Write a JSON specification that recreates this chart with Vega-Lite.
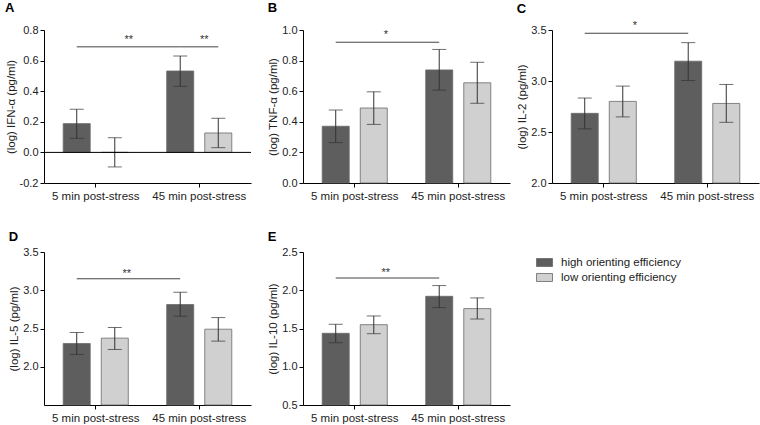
{
  "$schema": "https://vega.github.io/schema/vega-lite/v6.json",
  "padding": {"left": 5, "top": 2, "right": 2, "bottom": 2},
  "config": {
    "font": "Liberation Sans",
    "view": {"stroke": null},
    "axis": {"domainColor": "#000", "tickColor": "#000", "labelColor": "#222", "titleColor": "#222", "labelFontSize": 11, "titleFontSize": 11.5, "titleFontWeight": "normal", "tickSize": 4, "grid": false, "labelPadding": 2, "titlePadding": 3, "labelOverlap": false, "labelFlush": false, "tickCount": 12},
    "axisX": {"labelAngle": 0, "labelFontSize": 11.5, "title": null, "labelPadding": 3},
    "title": {"anchor": "start", "frame": "bounds", "fontSize": 13, "fontWeight": "bold", "offset": 9, "color": "#000"}
  },
  "datasets": {
    "bars": [
      {"panel": "A", "time": "5 min post-stress", "group": "high orienting efficiency", "mean": 0.188, "lo": 0.092, "hi": 0.282},
      {"panel": "A", "time": "5 min post-stress", "group": "low orienting efficiency", "mean": 0.0, "lo": -0.095, "hi": 0.096},
      {"panel": "A", "time": "45 min post-stress", "group": "high orienting efficiency", "mean": 0.532, "lo": 0.432, "hi": 0.63},
      {"panel": "A", "time": "45 min post-stress", "group": "low orienting efficiency", "mean": 0.127, "lo": 0.031, "hi": 0.223},
      {"panel": "B", "time": "5 min post-stress", "group": "high orienting efficiency", "mean": 0.371, "lo": 0.264, "hi": 0.477},
      {"panel": "B", "time": "5 min post-stress", "group": "low orienting efficiency", "mean": 0.49, "lo": 0.383, "hi": 0.596},
      {"panel": "B", "time": "45 min post-stress", "group": "high orienting efficiency", "mean": 0.739, "lo": 0.607, "hi": 0.873},
      {"panel": "B", "time": "45 min post-stress", "group": "low orienting efficiency", "mean": 0.655, "lo": 0.521, "hi": 0.789},
      {"panel": "C", "time": "5 min post-stress", "group": "high orienting efficiency", "mean": 2.683, "lo": 2.531, "hi": 2.833},
      {"panel": "C", "time": "5 min post-stress", "group": "low orienting efficiency", "mean": 2.8, "lo": 2.648, "hi": 2.95},
      {"panel": "C", "time": "45 min post-stress", "group": "high orienting efficiency", "mean": 3.194, "lo": 3.005, "hi": 3.376},
      {"panel": "C", "time": "45 min post-stress", "group": "low orienting efficiency", "mean": 2.78, "lo": 2.595, "hi": 2.966},
      {"panel": "D", "time": "5 min post-stress", "group": "high orienting efficiency", "mean": 2.304, "lo": 2.161, "hi": 2.448},
      {"panel": "D", "time": "5 min post-stress", "group": "low orienting efficiency", "mean": 2.374, "lo": 2.226, "hi": 2.513},
      {"panel": "D", "time": "45 min post-stress", "group": "high orienting efficiency", "mean": 2.813, "lo": 2.661, "hi": 2.974},
      {"panel": "D", "time": "45 min post-stress", "group": "low orienting efficiency", "mean": 2.491, "lo": 2.335, "hi": 2.643},
      {"panel": "E", "time": "5 min post-stress", "group": "high orienting efficiency", "mean": 1.437, "lo": 1.314, "hi": 1.555},
      {"panel": "E", "time": "5 min post-stress", "group": "low orienting efficiency", "mean": 1.55, "lo": 1.432, "hi": 1.664},
      {"panel": "E", "time": "45 min post-stress", "group": "high orienting efficiency", "mean": 1.921, "lo": 1.773, "hi": 2.061},
      {"panel": "E", "time": "45 min post-stress", "group": "low orienting efficiency", "mean": 1.76, "lo": 1.624, "hi": 1.9}
    ],
    "sig": [
      {"panel": "A", "line": 1, "time": "5 min post-stress", "group": "high orienting efficiency", "y": 0.69},
      {"panel": "A", "line": 1, "time": "45 min post-stress", "group": "high orienting efficiency", "y": 0.69},
      {"panel": "A", "line": 2, "time": "45 min post-stress", "group": "high orienting efficiency", "y": 0.69},
      {"panel": "A", "line": 2, "time": "45 min post-stress", "group": "low orienting efficiency", "y": 0.69},
      {"panel": "B", "line": 1, "time": "5 min post-stress", "group": "high orienting efficiency", "y": 0.92},
      {"panel": "B", "line": 1, "time": "45 min post-stress", "group": "high orienting efficiency", "y": 0.92},
      {"panel": "C", "line": 1, "time": "5 min post-stress", "group": "high orienting efficiency", "y": 3.468},
      {"panel": "C", "line": 1, "time": "45 min post-stress", "group": "high orienting efficiency", "y": 3.468},
      {"panel": "D", "line": 1, "time": "5 min post-stress", "group": "high orienting efficiency", "y": 3.15},
      {"panel": "D", "line": 1, "time": "45 min post-stress", "group": "high orienting efficiency", "y": 3.15},
      {"panel": "E", "line": 1, "time": "5 min post-stress", "group": "high orienting efficiency", "y": 2.16},
      {"panel": "E", "line": 1, "time": "45 min post-stress", "group": "high orienting efficiency", "y": 2.16}
    ],
    "stars": [
      {"panel": "A", "id": 1, "time": "5 min post-stress", "group": "low orienting efficiency", "y": 0.69, "label": "**"},
      {"panel": "A", "id": 2, "time": "45 min post-stress", "group": "low orienting efficiency", "y": 0.69, "label": "**"},
      {"panel": "B", "id": 1, "time": "5 min post-stress", "group": "low orienting efficiency", "y": 0.92, "label": "*"},
      {"panel": "C", "id": 1, "time": "5 min post-stress", "group": "low orienting efficiency", "y": 3.468, "label": "*"},
      {"panel": "D", "id": 1, "time": "5 min post-stress", "group": "low orienting efficiency", "y": 3.15, "label": "**"},
      {"panel": "E", "id": 1, "time": "5 min post-stress", "group": "low orienting efficiency", "y": 2.16, "label": "**"}
    ]
  },
  "spacing": 29,
  "vconcat": [
    {
      "spacing": 52,
      "bounds": "flush",
      "hconcat": [
        {
          "width": 207, "height": 153,
          "title": {"text": "A"},
          "layer": [
            {"data": {"name": "bars"}, "transform": [{"filter": "datum.panel === 'A'"}],
             "mark": {"type": "bar", "stroke": "#6a6a6a", "strokeWidth": 0.8},
             "encoding": {
               "x": {"field": "time", "type": "nominal", "sort": ["5 min post-stress", "45 min post-stress"], "scale": {"paddingInner": 0, "paddingOuter": 0}},
               "xOffset": {"field": "group", "type": "nominal", "sort": ["high orienting efficiency", "low orienting efficiency"], "scale": {"paddingInner": 0.29, "paddingOuter": 0.505}},
               "y": {"field": "mean", "type": "quantitative", "scale": {"domain": [-0.2, 0.8], "nice": false}, "axis": {"title": "(log) IFN-α (pg/ml)", "values": [-0.2, 0, 0.2, 0.4, 0.6, 0.8], "tickCount": 12, "format": ".1f", "labelOverlap": false, "labelExpr": "replace(datum.label, '−', '-')"}},
               "y2": {"datum": 0},
               "color": {"field": "group", "type": "nominal", "scale": {"domain": ["high orienting efficiency", "low orienting efficiency"], "range": ["#5e5e5e", "#d0d0d0"]}, "legend": {"title": null, "orient": "none", "legendX": 492, "legendY": 224, "padding": 0, "symbolType": "M-1,-0.5H1V0.5H-1Z", "symbolSize": 256, "symbolStrokeColor": "#666", "symbolStrokeWidth": 0.8, "labelFontSize": 11.5, "labelColor": "#222", "labelOffset": 8, "rowPadding": 0}}
             }},
            {"data": {"name": "bars"}, "transform": [{"filter": "datum.panel === 'A'"}],
             "mark": {"type": "rule", "color": "#333", "strokeWidth": 1},
             "encoding": {
               "x": {"field": "time", "type": "nominal", "sort": ["5 min post-stress", "45 min post-stress"]},
               "xOffset": {"field": "group", "type": "nominal", "sort": ["high orienting efficiency", "low orienting efficiency"]},
               "y": {"field": "lo", "type": "quantitative"}, "y2": {"field": "hi"}
             }},
            {"data": {"name": "bars"}, "transform": [{"filter": "datum.panel === 'A'"}],
             "mark": {"type": "tick", "color": "#333", "size": 14, "thickness": 1},
             "encoding": {
               "x": {"field": "time", "type": "nominal", "sort": ["5 min post-stress", "45 min post-stress"]},
               "xOffset": {"field": "group", "type": "nominal", "sort": ["high orienting efficiency", "low orienting efficiency"]},
               "y": {"field": "lo", "type": "quantitative"}
             }},
            {"data": {"name": "bars"}, "transform": [{"filter": "datum.panel === 'A'"}],
             "mark": {"type": "tick", "color": "#333", "size": 14, "thickness": 1},
             "encoding": {
               "x": {"field": "time", "type": "nominal", "sort": ["5 min post-stress", "45 min post-stress"]},
               "xOffset": {"field": "group", "type": "nominal", "sort": ["high orienting efficiency", "low orienting efficiency"]},
               "y": {"field": "hi", "type": "quantitative"}
             }},
            {"data": {"values": [{"z": 0}]},
             "mark": {"type": "rule", "color": "#000", "strokeWidth": 1},
             "encoding": {"y": {"field": "z", "type": "quantitative"}}},
            {"data": {"name": "sig"}, "transform": [{"filter": "datum.panel === 'A' && datum.line === 1"}],
             "mark": {"type": "line", "color": "#444", "strokeWidth": 1},
             "encoding": {
               "x": {"field": "time", "type": "nominal", "sort": ["5 min post-stress", "45 min post-stress"]},
               "xOffset": {"field": "group", "type": "nominal", "sort": ["high orienting efficiency", "low orienting efficiency"]},
               "y": {"field": "y", "type": "quantitative"}
             }},
            {"data": {"name": "sig"}, "transform": [{"filter": "datum.panel === 'A' && datum.line === 2"}],
             "mark": {"type": "line", "color": "#444", "strokeWidth": 1, "xOffset": 5},
             "encoding": {
               "x": {"field": "time", "type": "nominal", "sort": ["5 min post-stress", "45 min post-stress"]},
               "xOffset": {"field": "group", "type": "nominal", "sort": ["high orienting efficiency", "low orienting efficiency"]},
               "y": {"field": "y", "type": "quantitative"}
             }},
            {"data": {"name": "stars"}, "transform": [{"filter": "datum.panel === 'A' && datum.id === 1"}],
             "mark": {"type": "text", "color": "#333", "fontSize": 11, "dx": 14, "dy": -4, "baseline": "alphabetic"},
             "encoding": {
               "x": {"field": "time", "type": "nominal", "sort": ["5 min post-stress", "45 min post-stress"]},
               "xOffset": {"field": "group", "type": "nominal", "sort": ["high orienting efficiency", "low orienting efficiency"]},
               "y": {"field": "y", "type": "quantitative"},
               "text": {"field": "label"}
             }},
            {"data": {"name": "stars"}, "transform": [{"filter": "datum.panel === 'A' && datum.id === 2"}],
             "mark": {"type": "text", "color": "#333", "fontSize": 11, "dx": -14, "dy": -4, "baseline": "alphabetic"},
             "encoding": {
               "x": {"field": "time", "type": "nominal", "sort": ["5 min post-stress", "45 min post-stress"]},
               "xOffset": {"field": "group", "type": "nominal", "sort": ["high orienting efficiency", "low orienting efficiency"]},
               "y": {"field": "y", "type": "quantitative"},
               "text": {"field": "label"}
             }}
          ]
        },
        {
          "spacing": 42,
          "bounds": "flush",
          "hconcat": [
            {
              "width": 207, "height": 153,
              "title": {"text": "B"},
              "layer": [
                {"data": {"name": "bars"}, "transform": [{"filter": "datum.panel === 'B'"}],
                 "mark": {"type": "bar", "stroke": "#6a6a6a", "strokeWidth": 0.8},
                 "encoding": {
                   "x": {"field": "time", "type": "nominal", "sort": ["5 min post-stress", "45 min post-stress"], "scale": {"paddingInner": 0, "paddingOuter": 0}},
                   "xOffset": {"field": "group", "type": "nominal", "sort": ["high orienting efficiency", "low orienting efficiency"], "scale": {"paddingInner": 0.29, "paddingOuter": 0.505}},
                   "y": {"field": "mean", "type": "quantitative", "scale": {"domain": [0, 1], "nice": false}, "axis": {"title": "(log) TNF-α (pg/ml)", "values": [0, 0.2, 0.4, 0.6, 0.8, 1.0], "tickCount": 12, "format": ".1f", "labelOverlap": false}},
                   "y2": {"datum": 0},
                   "color": {"field": "group", "type": "nominal", "scale": {"domain": ["high orienting efficiency", "low orienting efficiency"], "range": ["#5e5e5e", "#d0d0d0"]}, "legend": {"title": null, "orient": "none", "legendX": 492, "legendY": 224, "padding": 0, "symbolType": "M-1,-0.5H1V0.5H-1Z", "symbolSize": 256, "symbolStrokeColor": "#666", "symbolStrokeWidth": 0.8, "labelFontSize": 11.5, "labelColor": "#222", "labelOffset": 8, "rowPadding": 0}}
                 }},
                {"data": {"name": "bars"}, "transform": [{"filter": "datum.panel === 'B'"}],
                 "mark": {"type": "rule", "color": "#333", "strokeWidth": 1},
                 "encoding": {
                   "x": {"field": "time", "type": "nominal", "sort": ["5 min post-stress", "45 min post-stress"]},
                   "xOffset": {"field": "group", "type": "nominal", "sort": ["high orienting efficiency", "low orienting efficiency"]},
                   "y": {"field": "lo", "type": "quantitative"}, "y2": {"field": "hi"}
                 }},
                {"data": {"name": "bars"}, "transform": [{"filter": "datum.panel === 'B'"}],
                 "mark": {"type": "tick", "color": "#333", "size": 14, "thickness": 1},
                 "encoding": {
                   "x": {"field": "time", "type": "nominal", "sort": ["5 min post-stress", "45 min post-stress"]},
                   "xOffset": {"field": "group", "type": "nominal", "sort": ["high orienting efficiency", "low orienting efficiency"]},
                   "y": {"field": "lo", "type": "quantitative"}
                 }},
                {"data": {"name": "bars"}, "transform": [{"filter": "datum.panel === 'B'"}],
                 "mark": {"type": "tick", "color": "#333", "size": 14, "thickness": 1},
                 "encoding": {
                   "x": {"field": "time", "type": "nominal", "sort": ["5 min post-stress", "45 min post-stress"]},
                   "xOffset": {"field": "group", "type": "nominal", "sort": ["high orienting efficiency", "low orienting efficiency"]},
                   "y": {"field": "hi", "type": "quantitative"}
                 }},
                {"data": {"name": "sig"}, "transform": [{"filter": "datum.panel === 'B'"}],
                 "mark": {"type": "line", "color": "#444", "strokeWidth": 1},
                 "encoding": {
                   "x": {"field": "time", "type": "nominal", "sort": ["5 min post-stress", "45 min post-stress"]},
                   "xOffset": {"field": "group", "type": "nominal", "sort": ["high orienting efficiency", "low orienting efficiency"]},
                   "y": {"field": "y", "type": "quantitative"}
                 }},
                {"data": {"name": "stars"}, "transform": [{"filter": "datum.panel === 'B'"}],
                 "mark": {"type": "text", "color": "#333", "fontSize": 11, "dx": 12, "dy": -4, "baseline": "alphabetic"},
                 "encoding": {
                   "x": {"field": "time", "type": "nominal", "sort": ["5 min post-stress", "45 min post-stress"]},
                   "xOffset": {"field": "group", "type": "nominal", "sort": ["high orienting efficiency", "low orienting efficiency"]},
                   "y": {"field": "y", "type": "quantitative"},
                   "text": {"field": "label"}
                 }}
              ]
            },
            {
              "width": 207, "height": 153,
              "title": {"text": "C", "offset": 4},
              "layer": [
                {"data": {"name": "bars"}, "transform": [{"filter": "datum.panel === 'C'"}],
                 "mark": {"type": "bar", "stroke": "#6a6a6a", "strokeWidth": 0.8},
                 "encoding": {
                   "x": {"field": "time", "type": "nominal", "sort": ["5 min post-stress", "45 min post-stress"], "scale": {"paddingInner": 0, "paddingOuter": 0}},
                   "xOffset": {"field": "group", "type": "nominal", "sort": ["high orienting efficiency", "low orienting efficiency"], "scale": {"paddingInner": 0.29, "paddingOuter": 0.505}},
                   "y": {"field": "mean", "type": "quantitative", "scale": {"domain": [2, 3.5], "nice": false, "zero": false}, "axis": {"title": "(log) IL-2 (pg/ml)", "values": [2, 2.5, 3, 3.5], "tickCount": 12, "format": ".1f", "labelOverlap": false}},
                   "y2": {"datum": 2},
                   "color": {"field": "group", "type": "nominal", "scale": {"domain": ["high orienting efficiency", "low orienting efficiency"], "range": ["#5e5e5e", "#d0d0d0"]}, "legend": {"title": null, "orient": "none", "legendX": 492, "legendY": 224, "padding": 0, "symbolType": "M-1,-0.5H1V0.5H-1Z", "symbolSize": 256, "symbolStrokeColor": "#666", "symbolStrokeWidth": 0.8, "labelFontSize": 11.5, "labelColor": "#222", "labelOffset": 8, "rowPadding": 0}}
                 }},
                {"data": {"name": "bars"}, "transform": [{"filter": "datum.panel === 'C'"}],
                 "mark": {"type": "rule", "color": "#333", "strokeWidth": 1},
                 "encoding": {
                   "x": {"field": "time", "type": "nominal", "sort": ["5 min post-stress", "45 min post-stress"]},
                   "xOffset": {"field": "group", "type": "nominal", "sort": ["high orienting efficiency", "low orienting efficiency"]},
                   "y": {"field": "lo", "type": "quantitative"}, "y2": {"field": "hi"}
                 }},
                {"data": {"name": "bars"}, "transform": [{"filter": "datum.panel === 'C'"}],
                 "mark": {"type": "tick", "color": "#333", "size": 14, "thickness": 1},
                 "encoding": {
                   "x": {"field": "time", "type": "nominal", "sort": ["5 min post-stress", "45 min post-stress"]},
                   "xOffset": {"field": "group", "type": "nominal", "sort": ["high orienting efficiency", "low orienting efficiency"]},
                   "y": {"field": "lo", "type": "quantitative"}
                 }},
                {"data": {"name": "bars"}, "transform": [{"filter": "datum.panel === 'C'"}],
                 "mark": {"type": "tick", "color": "#333", "size": 14, "thickness": 1},
                 "encoding": {
                   "x": {"field": "time", "type": "nominal", "sort": ["5 min post-stress", "45 min post-stress"]},
                   "xOffset": {"field": "group", "type": "nominal", "sort": ["high orienting efficiency", "low orienting efficiency"]},
                   "y": {"field": "hi", "type": "quantitative"}
                 }},
                {"data": {"name": "sig"}, "transform": [{"filter": "datum.panel === 'C'"}],
                 "mark": {"type": "line", "color": "#444", "strokeWidth": 1},
                 "encoding": {
                   "x": {"field": "time", "type": "nominal", "sort": ["5 min post-stress", "45 min post-stress"]},
                   "xOffset": {"field": "group", "type": "nominal", "sort": ["high orienting efficiency", "low orienting efficiency"]},
                   "y": {"field": "y", "type": "quantitative"}
                 }},
                {"data": {"name": "stars"}, "transform": [{"filter": "datum.panel === 'C'"}],
                 "mark": {"type": "text", "color": "#333", "fontSize": 11, "dx": 12, "dy": -4, "baseline": "alphabetic"},
                 "encoding": {
                   "x": {"field": "time", "type": "nominal", "sort": ["5 min post-stress", "45 min post-stress"]},
                   "xOffset": {"field": "group", "type": "nominal", "sort": ["high orienting efficiency", "low orienting efficiency"]},
                   "y": {"field": "y", "type": "quantitative"},
                   "text": {"field": "label"}
                 }}
              ]
            }
          ]
        }
      ]
    },
    {
      "spacing": 52,
      "bounds": "flush",
      "hconcat": [
        {
          "width": 207, "height": 153,
          "title": {"text": "D", "offset": 2},
          "layer": [
            {"data": {"name": "bars"}, "transform": [{"filter": "datum.panel === 'D'"}],
             "mark": {"type": "bar", "stroke": "#6a6a6a", "strokeWidth": 0.8},
             "encoding": {
               "x": {"field": "time", "type": "nominal", "sort": ["5 min post-stress", "45 min post-stress"], "scale": {"paddingInner": 0, "paddingOuter": 0}},
               "xOffset": {"field": "group", "type": "nominal", "sort": ["high orienting efficiency", "low orienting efficiency"], "scale": {"paddingInner": 0.29, "paddingOuter": 0.505}},
               "y": {"field": "mean", "type": "quantitative", "scale": {"domain": [1.5, 3.5], "nice": false, "zero": false}, "axis": {"title": "(log) IL-5 (pg/ml)", "values": [2, 2.5, 3, 3.5], "tickCount": 12, "format": ".1f", "labelOverlap": false}},
               "y2": {"datum": 1.5},
               "color": {"field": "group", "type": "nominal", "scale": {"domain": ["high orienting efficiency", "low orienting efficiency"], "range": ["#5e5e5e", "#d0d0d0"]}, "legend": {"title": null, "orient": "none", "legendX": 492, "legendY": 224, "padding": 0, "symbolType": "M-1,-0.5H1V0.5H-1Z", "symbolSize": 256, "symbolStrokeColor": "#666", "symbolStrokeWidth": 0.8, "labelFontSize": 11.5, "labelColor": "#222", "labelOffset": 8, "rowPadding": 0}}
             }},
            {"data": {"name": "bars"}, "transform": [{"filter": "datum.panel === 'D'"}],
             "mark": {"type": "rule", "color": "#333", "strokeWidth": 1},
             "encoding": {
               "x": {"field": "time", "type": "nominal", "sort": ["5 min post-stress", "45 min post-stress"]},
               "xOffset": {"field": "group", "type": "nominal", "sort": ["high orienting efficiency", "low orienting efficiency"]},
               "y": {"field": "lo", "type": "quantitative"}, "y2": {"field": "hi"}
             }},
            {"data": {"name": "bars"}, "transform": [{"filter": "datum.panel === 'D'"}],
             "mark": {"type": "tick", "color": "#333", "size": 14, "thickness": 1},
             "encoding": {
               "x": {"field": "time", "type": "nominal", "sort": ["5 min post-stress", "45 min post-stress"]},
               "xOffset": {"field": "group", "type": "nominal", "sort": ["high orienting efficiency", "low orienting efficiency"]},
               "y": {"field": "lo", "type": "quantitative"}
             }},
            {"data": {"name": "bars"}, "transform": [{"filter": "datum.panel === 'D'"}],
             "mark": {"type": "tick", "color": "#333", "size": 14, "thickness": 1},
             "encoding": {
               "x": {"field": "time", "type": "nominal", "sort": ["5 min post-stress", "45 min post-stress"]},
               "xOffset": {"field": "group", "type": "nominal", "sort": ["high orienting efficiency", "low orienting efficiency"]},
               "y": {"field": "hi", "type": "quantitative"}
             }},
            {"data": {"name": "sig"}, "transform": [{"filter": "datum.panel === 'D'"}],
             "mark": {"type": "line", "color": "#444", "strokeWidth": 1},
             "encoding": {
               "x": {"field": "time", "type": "nominal", "sort": ["5 min post-stress", "45 min post-stress"]},
               "xOffset": {"field": "group", "type": "nominal", "sort": ["high orienting efficiency", "low orienting efficiency"]},
               "y": {"field": "y", "type": "quantitative"}
             }},
            {"data": {"name": "stars"}, "transform": [{"filter": "datum.panel === 'D'"}],
             "mark": {"type": "text", "color": "#333", "fontSize": 11, "dx": 12, "dy": -2, "baseline": "alphabetic"},
             "encoding": {
               "x": {"field": "time", "type": "nominal", "sort": ["5 min post-stress", "45 min post-stress"]},
               "xOffset": {"field": "group", "type": "nominal", "sort": ["high orienting efficiency", "low orienting efficiency"]},
               "y": {"field": "y", "type": "quantitative"},
               "text": {"field": "label"}
             }}
          ]
        },
        {
          "width": 207, "height": 153,
          "title": {"text": "E", "offset": 2},
          "layer": [
            {"data": {"name": "bars"}, "transform": [{"filter": "datum.panel === 'E'"}],
             "mark": {"type": "bar", "stroke": "#6a6a6a", "strokeWidth": 0.8},
             "encoding": {
               "x": {"field": "time", "type": "nominal", "sort": ["5 min post-stress", "45 min post-stress"], "scale": {"paddingInner": 0, "paddingOuter": 0}},
               "xOffset": {"field": "group", "type": "nominal", "sort": ["high orienting efficiency", "low orienting efficiency"], "scale": {"paddingInner": 0.29, "paddingOuter": 0.505}},
               "y": {"field": "mean", "type": "quantitative", "scale": {"domain": [0.5, 2.5], "nice": false, "zero": false}, "axis": {"title": "(log) IL-10 (pg/ml)", "values": [0.5, 1, 1.5, 2, 2.5], "tickCount": 12, "format": ".1f", "labelOverlap": false}},
               "y2": {"datum": 0.5},
               "color": {"field": "group", "type": "nominal", "scale": {"domain": ["high orienting efficiency", "low orienting efficiency"], "range": ["#5e5e5e", "#d0d0d0"]}, "legend": {"title": null, "orient": "none", "legendX": 492, "legendY": 224, "padding": 0, "symbolType": "M-1,-0.5H1V0.5H-1Z", "symbolSize": 256, "symbolStrokeColor": "#666", "symbolStrokeWidth": 0.8, "labelFontSize": 11.5, "labelColor": "#222", "labelOffset": 8, "rowPadding": 0}}
             }},
            {"data": {"name": "bars"}, "transform": [{"filter": "datum.panel === 'E'"}],
             "mark": {"type": "rule", "color": "#333", "strokeWidth": 1},
             "encoding": {
               "x": {"field": "time", "type": "nominal", "sort": ["5 min post-stress", "45 min post-stress"]},
               "xOffset": {"field": "group", "type": "nominal", "sort": ["high orienting efficiency", "low orienting efficiency"]},
               "y": {"field": "lo", "type": "quantitative"}, "y2": {"field": "hi"}
             }},
            {"data": {"name": "bars"}, "transform": [{"filter": "datum.panel === 'E'"}],
             "mark": {"type": "tick", "color": "#333", "size": 14, "thickness": 1},
             "encoding": {
               "x": {"field": "time", "type": "nominal", "sort": ["5 min post-stress", "45 min post-stress"]},
               "xOffset": {"field": "group", "type": "nominal", "sort": ["high orienting efficiency", "low orienting efficiency"]},
               "y": {"field": "lo", "type": "quantitative"}
             }},
            {"data": {"name": "bars"}, "transform": [{"filter": "datum.panel === 'E'"}],
             "mark": {"type": "tick", "color": "#333", "size": 14, "thickness": 1},
             "encoding": {
               "x": {"field": "time", "type": "nominal", "sort": ["5 min post-stress", "45 min post-stress"]},
               "xOffset": {"field": "group", "type": "nominal", "sort": ["high orienting efficiency", "low orienting efficiency"]},
               "y": {"field": "hi", "type": "quantitative"}
             }},
            {"data": {"name": "sig"}, "transform": [{"filter": "datum.panel === 'E'"}],
             "mark": {"type": "line", "color": "#444", "strokeWidth": 1},
             "encoding": {
               "x": {"field": "time", "type": "nominal", "sort": ["5 min post-stress", "45 min post-stress"]},
               "xOffset": {"field": "group", "type": "nominal", "sort": ["high orienting efficiency", "low orienting efficiency"]},
               "y": {"field": "y", "type": "quantitative"}
             }},
            {"data": {"name": "stars"}, "transform": [{"filter": "datum.panel === 'E'"}],
             "mark": {"type": "text", "color": "#333", "fontSize": 11, "dx": 12, "dy": -2, "baseline": "alphabetic"},
             "encoding": {
               "x": {"field": "time", "type": "nominal", "sort": ["5 min post-stress", "45 min post-stress"]},
               "xOffset": {"field": "group", "type": "nominal", "sort": ["high orienting efficiency", "low orienting efficiency"]},
               "y": {"field": "y", "type": "quantitative"},
               "text": {"field": "label"}
             }}
          ]
        }
      ]
    }
  ]
}
